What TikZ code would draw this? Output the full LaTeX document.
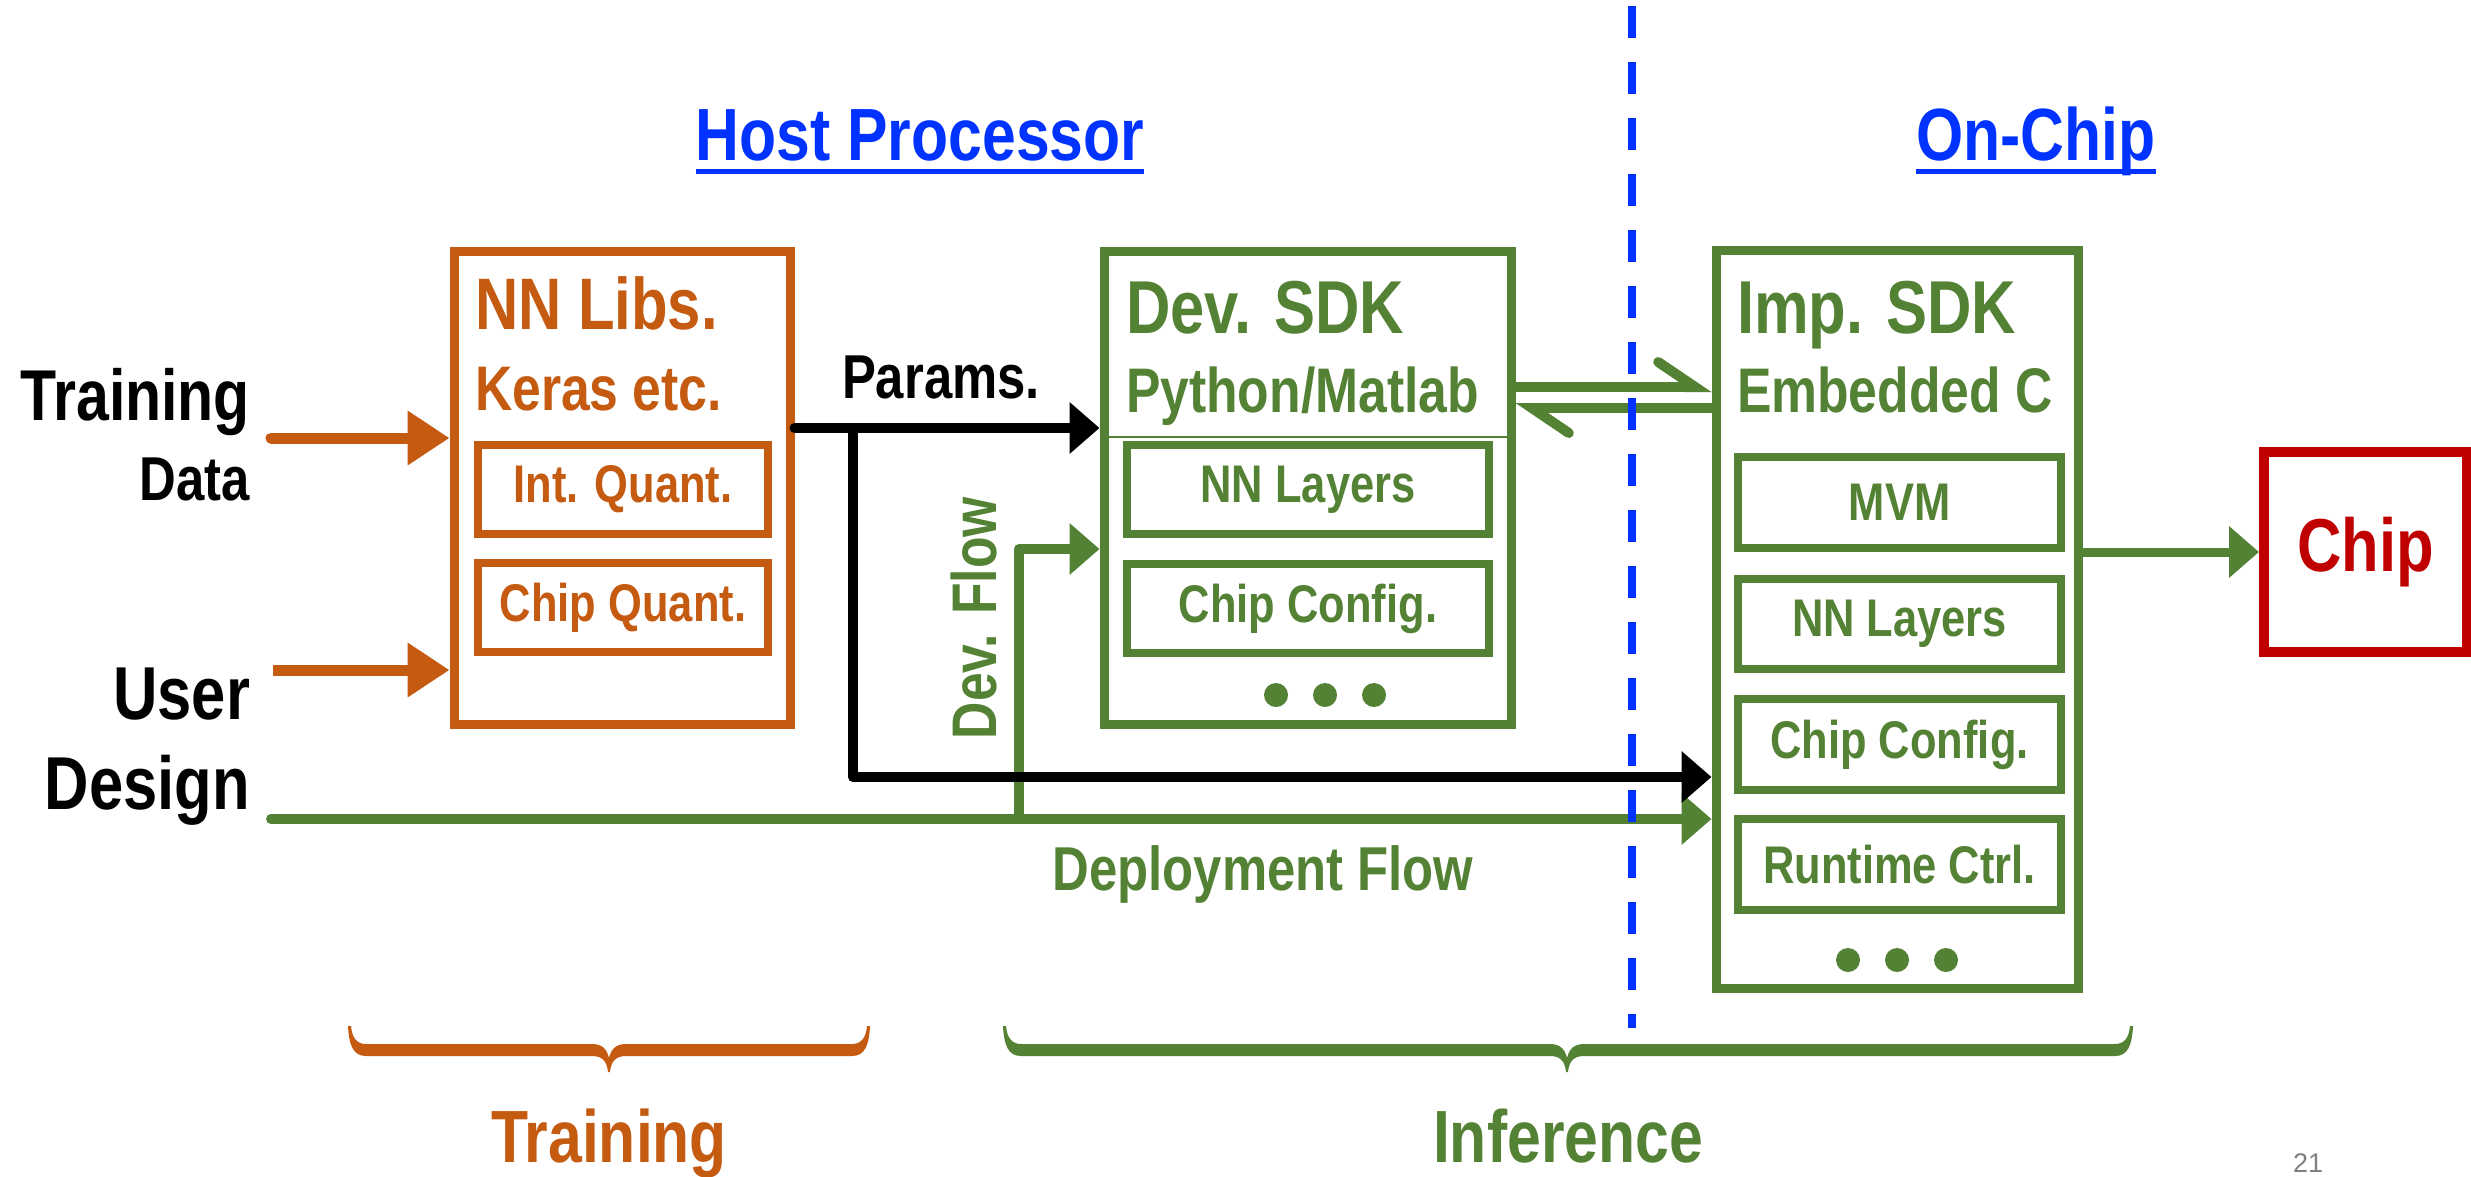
\documentclass[tikz,border=0pt]{standalone}
\usepackage{fontspec}
\setmainfont{Liberation Sans}[FakeStretch=0.82]
\newfontfamily\pagenumfont{Liberation Sans}
\usetikzlibrary{arrows.meta}
\definecolor{cOr}{RGB}{197,90,17}
\definecolor{cGr}{RGB}{84,130,53}
\definecolor{cBl}{RGB}{0,51,255}
\definecolor{cRd}{RGB}{192,0,0}
\newcommand\myfs[1]{\fontsize{#1}{#1}\selectfont\bfseries}
\newcommand\mybrace[4]{%
\fill[#4] (#1,1026) .. controls (#1+1,1045) and (#1+5,1056) .. (#1+18,1056) -- (#2-17,1056)
 .. controls (#2-6,1056) and (#2-2,1062) .. (#2-1,1072) -- (#2+1,1072)
 .. controls (#2+2,1062) and (#2+6,1056) .. (#2+17,1056) -- (#3-18,1056)
 .. controls (#3-5,1056) and (#3-1,1045) .. (#3,1026) -- (#3-3,1026)
 .. controls (#3-4,1038) and (#3-9,1044) .. (#3-18,1044) -- (#2+17,1044)
 .. controls (#2+6,1044) and (#2+2,1050) .. (#2,1058)
 .. controls (#2-2,1050) and (#2-6,1044) .. (#2-17,1044) -- (#1+18,1044)
 .. controls (#1+9,1044) and (#1+4,1038) .. (#1+3,1026) -- cycle;}
\begin{document}
\begin{tikzpicture}[x=1pt,y=-1pt,
  lbl/.style={inner sep=0pt, outer sep=0pt},
  bigbox/.style={draw, line width=9pt, inner sep=0pt, minimum width=#1},
  smallbox/.style={draw, line width=8pt, inner sep=0pt, minimum width=#1, minimum height=89pt},
  tipA/.style={-{Triangle[length=30pt,width=50pt]}},
  tipO/.style={-{Triangle[length=42pt,width=52pt]}},
  harp/.style={-{Straight Barb[harpoon,length=37pt,width=50pt,line cap=round]}, line width=10pt, cGr},
]
\useasboundingbox (0,0) rectangle (2471,1176);
\fill[white] (0,0) rectangle (2471,1176);

% headers
\node[lbl, anchor=base, text=cBl, font=\myfs{74}] (hp) at (920,160) {Host Processor};
\node[lbl, anchor=base, text=cBl, font=\myfs{74}] (oc) at (2036,160) {On-Chip};
\draw[cBl, line width=5pt] ([yshift=-11pt]hp.base west) -- ([yshift=-11pt]hp.base east);
\draw[cBl, line width=5pt] ([yshift=-11pt]oc.base west) -- ([yshift=-11pt]oc.base east);

% left labels
\node[lbl, anchor=base east, font=\myfs{72}] (ltr) at (250,420) {Training};
\node[lbl, anchor=base east, font=\myfs{62}] (ldata) at (250,500) {Data};
\node[lbl, anchor=base east, font=\myfs{75}] (luser) at (250,719) {User};
\node[lbl, anchor=base east, font=\myfs{75}] (ldes) at (250,809) {Design};

% NN Libs box
\node[bigbox=336pt, minimum height=473pt, cOr] (nnlib) at (622,487.5) {};
\node[lbl, anchor=base west, text=cOr, font=\myfs{73}] (tnn) at (475,329) {NN Libs.};
\node[lbl, anchor=base west, text=cOr, font=\myfs{63}] (tker) at (475,410) {Keras etc.};
\node[smallbox=290pt, cOr, text=cOr, font=\myfs{53}] (intq) at (623,489.5) {Int. Quant.};
\node[smallbox=290pt, cOr, text=cOr, font=\myfs{53}] (chq) at (623,607.5) {Chip Quant.};

% Dev SDK box
\node[bigbox=407pt, minimum height=473pt, cGr] (dev) at (1307.5,487.5) {};
\coordinate (dv) at (1300,437);
\draw[cGr, line width=2pt] (dev.west |- dv) -- (dev.east |- dv);
\node[lbl, anchor=base west, text=cGr, font=\myfs{75}] (tdev) at (1126,333) {Dev. SDK};
\node[lbl, anchor=base west, text=cGr, font=\myfs{63}] (tpy) at (1126,412) {Python/Matlab};
\node[smallbox=362pt, cGr, text=cGr, font=\myfs{53}] (dnn) at (1308,489.5) {NN Layers};
\node[smallbox=362pt, cGr, text=cGr, font=\myfs{53}] (dcc) at (1308,608.5) {Chip Config.};
\fill[cGr] (1276,695) circle (12pt) (1325,695) circle (12pt) (1374,695) circle (12pt);

% Imp SDK box
\node[bigbox=362pt, minimum height=738pt, cGr] (imp) at (1897,619) {};
\node[lbl, anchor=base west, text=cGr, font=\myfs{75}] (timp) at (1737,333) {Imp. SDK};
\node[lbl, anchor=base west, text=cGr, font=\myfs{63}] (temb) at (1737,412) {Embedded C};
\node[smallbox=323pt, minimum height=91pt, cGr, text=cGr, font=\myfs{53}] (mvm) at (1899.5,502.5) {MVM};
\node[smallbox=323pt, minimum height=90pt, cGr, text=cGr, font=\myfs{53}] (inn) at (1899.5,624) {NN Layers};
\node[smallbox=323pt, minimum height=91pt, cGr, text=cGr, font=\myfs{53}] (icc) at (1899.5,744.5) {Chip Config.};
\node[smallbox=323pt, minimum height=91pt, cGr, text=cGr, font=\myfs{53}] (irt) at (1899.5,864.5) {Runtime Ctrl.};
\fill[cGr] (1848,960) circle (12pt) (1897,960) circle (12pt) (1946,960) circle (12pt);

% Chip box
\node[draw=cRd, line width=10pt, minimum width=203pt, minimum height=200pt, inner sep=0pt, text=cRd, font=\myfs{75}] (chip) at (2365.5,552) {Chip};

% orange input arrows
\coordinate (ctd) at (271,438);
\coordinate (cud) at (273,670);
\draw[cOr, line width=11pt, line cap=round, tipO] (ctd) -- (ctd -| nnlib.west);
\draw[cOr, line width=11pt, tipO] (cud) -- (cud -| nnlib.west);

% deployment flow
\coordinate (cdp) at (271,819);
\coordinate (cdf) at (1019,819);
\coordinate (cdfc) at (1019,549);
\draw[cGr, line width=10pt, line cap=round, tipA] (cdp) -- (cdp -| imp.west);
\draw[cGr, line width=10pt, line join=round, tipA] (cdf) -- (cdfc) -- (cdfc -| dev.west);
\node[lbl, anchor=base, text=cGr, font=\myfs{62}] (tdep) at (1263,890) {Deployment Flow};
\node[lbl, rotate=90, text=cGr, font=\myfs{63}] (tdf) at (974,618) {Dev. Flow};

% params
\coordinate (cpa) at (800,428);
\coordinate (cbr) at (853,428);
\coordinate (cbd) at (853,777);
\draw[black, line width=10pt, line cap=round, tipA] (nnlib.east |- cpa) -- (cpa -| dev.west);
\draw[black, line width=10pt, line cap=round, line join=round, tipA] (cbr) -- (cbd) -- (cbd -| imp.west);
\node[lbl, anchor=base, font=\myfs{62}] (tpar) at (941,398) {Params.};

% harpoons
\coordinate (hu) at (1600,387);
\coordinate (hl) at (1600,408);
\draw[harp] (dev.east |- hu) -- (imp.west |- hu);
\draw[harp] (imp.west |- hl) -- (dev.east |- hl);

% to chip
\draw[cGr, line width=9pt, tipA] (imp.east |- chip) -- (chip.west);

% braces
\mybrace{348}{609}{870}{cOr}
\mybrace{1003}{1567}{2133}{cGr}
\node[lbl, anchor=base, text=cOr, font=\myfs{74}] (ttr) at (609,1162) {Training};
\node[lbl, anchor=base, text=cGr, font=\myfs{74}] (tinf) at (1568,1162) {Inference};

% page number
\node[lbl, anchor=base, text=black!50, font=\pagenumfont\fontsize{27}{27}\selectfont] (pg) at (2308,1172) {21};

% divider
\draw[cBl, line width=8pt, dash pattern=on 32pt off 24pt] (1632,6) -- (1632,1028);
\end{tikzpicture}
\end{document}
